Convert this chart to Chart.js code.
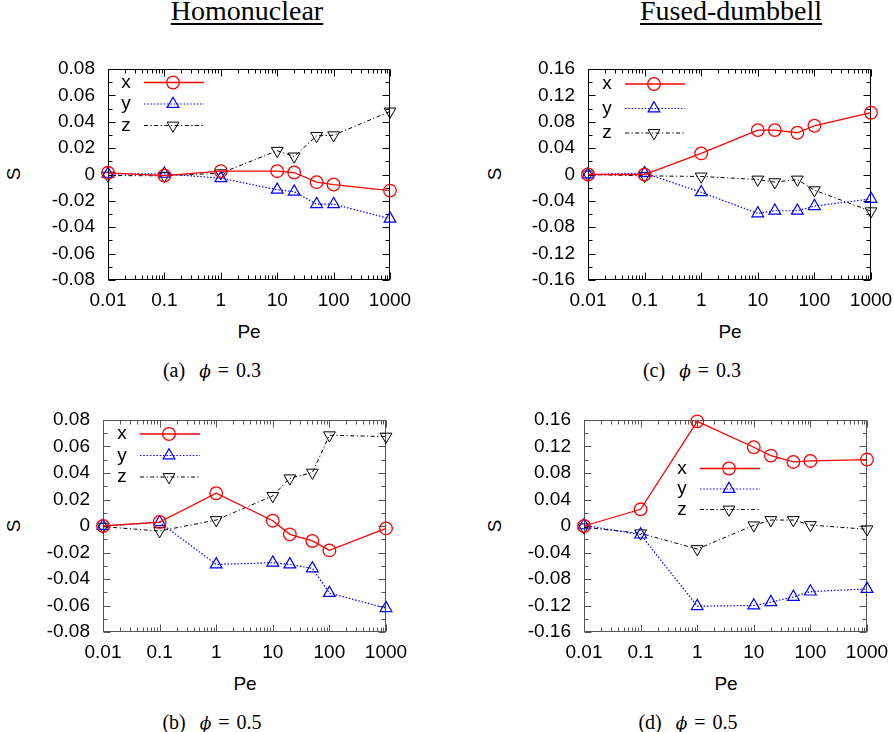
<!DOCTYPE html>
<html><head><meta charset="utf-8">
<script src="https://cdn.jsdelivr.net/npm/chart.js@4.4.1/dist/chart.umd.min.js"></script>
<style>
body{margin:0;background:#fff;width:894px;height:732px;position:relative;overflow:hidden;font-family:"Liberation Sans",Arial,sans-serif;color:#000;}
canvas{position:absolute;}
.t{position:absolute;white-space:nowrap;transform:translate(-50%,-50%);line-height:1;}
.title{font-family:"Liberation Serif",serif;font-size:28px;text-decoration:underline;text-decoration-thickness:1.5px;text-underline-offset:3px;}
.cap{font-family:"Liberation Serif","DejaVu Serif",serif;font-size:20px;word-spacing:2px;}
.cap i{font-family:"DejaVu Serif",serif;font-size:17px;font-weight:normal;}
.ax{font-size:19px;}
.rot{transform:translate(-50%,-50%) rotate(-90deg);}
</style></head>
<body>
<div class="t title" style="left:247px;top:11px;">Homonuclear</div>
<div class="t title" style="left:731px;top:11px;">Fused-dumbbell</div>
<div class="t cap" style="left:212px;top:370px;">(a)&nbsp;&nbsp;<i>ϕ</i>&nbsp;=&nbsp;0.3</div>
<div class="t cap" style="left:692px;top:370px;">(c)&nbsp;&nbsp;<i>ϕ</i>&nbsp;=&nbsp;0.3</div>
<div class="t cap" style="left:212px;top:722px;">(b)&nbsp;&nbsp;<i>ϕ</i>&nbsp;=&nbsp;0.5</div>
<div class="t cap" style="left:688px;top:722px;">(d)&nbsp;&nbsp;<i>ϕ</i>&nbsp;=&nbsp;0.5</div>
<div class="t ax" style="left:249px;top:331px;">Pe</div>
<div class="t ax" style="left:730px;top:331px;">Pe</div>
<div class="t ax" style="left:245px;top:683px;">Pe</div>
<div class="t ax" style="left:726px;top:683px;">Pe</div>
<div class="t ax rot" style="left:13px;top:174px;">S</div>
<div class="t ax rot" style="left:494px;top:174px;">S</div>
<div class="t ax rot" style="left:13px;top:526px;">S</div>
<div class="t ax rot" style="left:494px;top:526px;">S</div>
<script>
// ---- data ----
const pe = [0.01, 0.1, 1, 10, 20, 50, 100, 1000];
const xTickValues = [0.01, 0.1, 1, 10, 100, 1000];
const xTickLabels = ['0.01', '0.1', '1', '10', '100', '1000'];
const yTickValuesHomo = [-0.08, -0.06, -0.04, -0.02, 0, 0.02, 0.04, 0.06, 0.08];
const yTickLabelsHomo = ['-0.08', '-0.06', '-0.04', '-0.02', '0', '0.02', '0.04', '0.06', '0.08'];
const yTickValuesFused = [-0.16, -0.12, -0.08, -0.04, 0, 0.04, 0.08, 0.12, 0.16];
const yTickLabelsFused = ['-0.16', '-0.12', '-0.08', '-0.04', '0', '0.04', '0.08', '0.12', '0.16'];
const seriesNames = ['x', 'y', 'z'];

// (a) Homonuclear, phi = 0.3
const homo03X = [0.0013, -0.0008, 0.0025, 0.0025, 0.0015, -0.0058, -0.0076, -0.0122];
const homo03Y = [0.0005, 0.0005, -0.0028, -0.0116, -0.013, -0.0225, -0.0225, -0.0335];
const homo03Z = [-0.0008, -0.001, 0.001, 0.018, 0.0137, 0.0293, 0.0298, 0.0478];
// (c) Fused-dumbbell, phi = 0.3
const fused03X = [0, 0, 0.032, 0.0673, 0.0673, 0.0633, 0.0739, 0.0937];
const fused03Y = [0, 0.002, -0.027, -0.059, -0.055, -0.055, -0.048, -0.037];
const fused03Z = [0, -0.002, -0.003, -0.0076, -0.0116, -0.0076, -0.0238, -0.0557];
// (b) Homonuclear, phi = 0.5
const homo05X = [0, 0.003, 0.0247, 0.004, -0.0063, -0.0113, -0.0184, -0.0018];
const homo05Y = [0, 0.0028, -0.029, -0.0277, -0.029, -0.032, -0.0506, -0.062];
const homo05Z = [-0.0005, -0.0038, 0.0045, 0.0227, 0.036, 0.0403, 0.0685, 0.0675];
// (d) Fused-dumbbell, phi = 0.5
const fused05X = [0, 0.0252, 0.158, 0.1189, 0.1063, 0.0967, 0.0982, 0.1003];
const fused05Y = [0.001, -0.013, -0.121, -0.12, -0.115, -0.107, -0.099, -0.095];
const fused05Z = [-0.002, -0.011, -0.0348, 0.001, 0.009, 0.009, 0.0015, -0.005];

// ---- plugins ----
const frameTicks = {
  id: 'frameTicks',
  beforeDatasetsDraw(chart, args, o) {
    const {ctx, chartArea: a, scales: {x, y}} = chart;
    ctx.save();
    ctx.strokeStyle = o.color; ctx.lineWidth = 1;
    const L = Math.round(a.left) + 0.5, R = Math.round(a.right) - 0.5;
    const T = Math.round(a.top) + 0.5, B = Math.round(a.bottom) - 0.5;
    ctx.beginPath();
    for (let e = -2; e <= 3; e++) {
      for (let m = 1; m <= 9; m++) {
        const v = m * Math.pow(10, e);
        if (v > 1000 * 1.0001) break;
        const px = Math.round(x.getPixelForValue(v)) + 0.5;
        const len = m === 1 ? 7 : 4;
        ctx.moveTo(px, B); ctx.lineTo(px, B - len);
        ctx.moveTo(px, T); ctx.lineTo(px, T + len);
      }
    }
    const half = o.step / 2;
    for (let k = 0; ; k++) {
      const v = y.min + k * half;
      if (v > y.max + 1e-9) break;
      const py = Math.round(y.getPixelForValue(v)) + 0.5;
      const len = k % 2 === 0 ? 7 : 4;
      ctx.moveTo(L, py); ctx.lineTo(L + len, py);
      ctx.moveTo(R, py); ctx.lineTo(R - len, py);
    }
    ctx.stroke();
    ctx.strokeRect(L, T, R - L, B - T);
    ctx.restore();
  }
};

const inLegend = {
  id: 'inLegend',
  afterDatasetsDraw(chart, args, o) {
    const ctx = chart.ctx;
    ctx.save();
    chart.data.datasets.forEach((ds, i) => {
      const yy = o.y + i * o.dy;
      ctx.fillStyle = '#000';
      ctx.font = '19px "Liberation Sans", Arial, sans-serif';
      ctx.textAlign = 'center';
      ctx.textBaseline = 'alphabetic';
      ctx.fillText(ds.label, o.x, yy + 5);
      ctx.strokeStyle = ds.borderColor;
      ctx.lineWidth = ds.borderWidth;
      ctx.setLineDash(ds.borderDash || []);
      ctx.beginPath(); ctx.moveTo(o.x + 18, yy); ctx.lineTo(o.x + 78, yy); ctx.stroke();
      ctx.setLineDash([]);
      ctx.fillStyle = 'rgba(0,0,0,0)';
      Chart.helpers.drawPoint(ctx, {
        pointStyle: ds.pointStyle, rotation: ds.pointRotation, radius: ds.pointRadius,
        borderWidth: ds.pointBorderWidth
      }, o.x + 47, yy);
    });
    ctx.restore();
  }
};

function ds(label, vals, color, dash, style, rot, radius, width) {
  return {
    label: label,
    data: pe.map((p, i) => ({x: p, y: vals[i]})),
    borderColor: color, backgroundColor: 'rgba(0,0,0,0)',
    borderWidth: width, borderDash: dash,
    pointStyle: style, pointRotation: rot, pointRadius: radius,
    pointBorderWidth: width, pointBorderColor: color, pointBackgroundColor: 'rgba(0,0,0,0)',
    tension: 0, clip: false
  };
}

const PAD_T = 32, PAD_R = 45, AX_W = 100, AX_H = 45;

function makePanel(p) {
  const x0 = p.L - AX_W, y0 = p.T - PAD_T;
  const w = p.R - x0 + PAD_R, h = p.B - y0 + AX_H;
  const cv = document.createElement('canvas');
  cv.width = w; cv.height = h;
  cv.style.left = x0 + 'px'; cv.style.top = y0 + 'px';
  cv.style.width = w + 'px'; cv.style.height = h + 'px';
  document.body.appendChild(cv);
  const font = {family: '"Liberation Sans", Arial, sans-serif', size: 19};
  new Chart(cv, {
    type: 'line',
    data: {datasets: [
      ds(seriesNames[0], p.sx, '#ff0000', [], 'circle', 0, 6.3, 1.3),
      ds(seriesNames[1], p.sy, '#0000ff', [1.5, 1.8], 'triangle', 0, 6.8, 1.2),
      ds(seriesNames[2], p.sz, '#000000', [4, 2.5, 1.2, 2.5], 'triangle', 180, 6.8, 1)
    ]},
    options: {
      responsive: false, animation: false, devicePixelRatio: 1,
      layout: {padding: {left: 0, top: PAD_T, right: PAD_R, bottom: 0}},
      plugins: {
        legend: {display: false}, tooltip: {enabled: false},
        frameTicks: {color: p.frame, step: p.step},
        inLegend: {x: p.lx - x0, y: p.ly - y0, dy: p.ldy}
      },
      scales: {
        x: {
          type: 'logarithmic', min: 0.01, max: 1000,
          afterBuildTicks: s => { s.ticks = xTickValues.map(v => ({value: v})); },
          afterFit: s => { s.height = AX_H; },
          grid: {display: false, drawTicks: false}, border: {display: false},
          ticks: {autoSkip: false, maxRotation: 0, minRotation: 0, padding: 9, color: '#000', font: font,
                  callback: (v, i) => xTickLabels[i]}
        },
        y: {
          type: 'linear', min: p.yTicks[0], max: p.yTicks[p.yTicks.length - 1],
          afterBuildTicks: s => { s.ticks = p.yTicks.map(v => ({value: v})); },
          afterFit: s => { s.width = AX_W; },
          grid: {display: false, drawTicks: false}, border: {display: false},
          ticks: {autoSkip: false, padding: 13, color: '#000', font: font,
                  callback: (v, i) => p.yLabels[i]}
        }
      }
    },
    plugins: [frameTicks, inLegend]
  });
}

makePanel({L: 108, R: 390, T: 69, B: 280, sx: homo03X, sy: homo03Y, sz: homo03Z,
  yTicks: yTickValuesHomo, yLabels: yTickLabelsHomo, step: 0.02, frame: '#000',
  lx: 126, ly: 82.5, ldy: 21.5});
makePanel({L: 588, R: 871, T: 69, B: 280, sx: fused03X, sy: fused03Y, sz: fused03Z,
  yTicks: yTickValuesFused, yLabels: yTickLabelsFused, step: 0.04, frame: '#000',
  lx: 607, ly: 84, ldy: 24.5});
makePanel({L: 103, R: 386, T: 420, B: 632, sx: homo05X, sy: homo05Y, sz: homo05Z,
  yTicks: yTickValuesHomo, yLabels: yTickLabelsHomo, step: 0.02, frame: '#555',
  lx: 122, ly: 434, ldy: 21.5});
makePanel({L: 584, R: 867, T: 420, B: 632, sx: fused05X, sy: fused05Y, sz: fused05Z,
  yTicks: yTickValuesFused, yLabels: yTickLabelsFused, step: 0.04, frame: '#555',
  lx: 682, ly: 468.5, ldy: 20.5});
</script>
</body></html>
